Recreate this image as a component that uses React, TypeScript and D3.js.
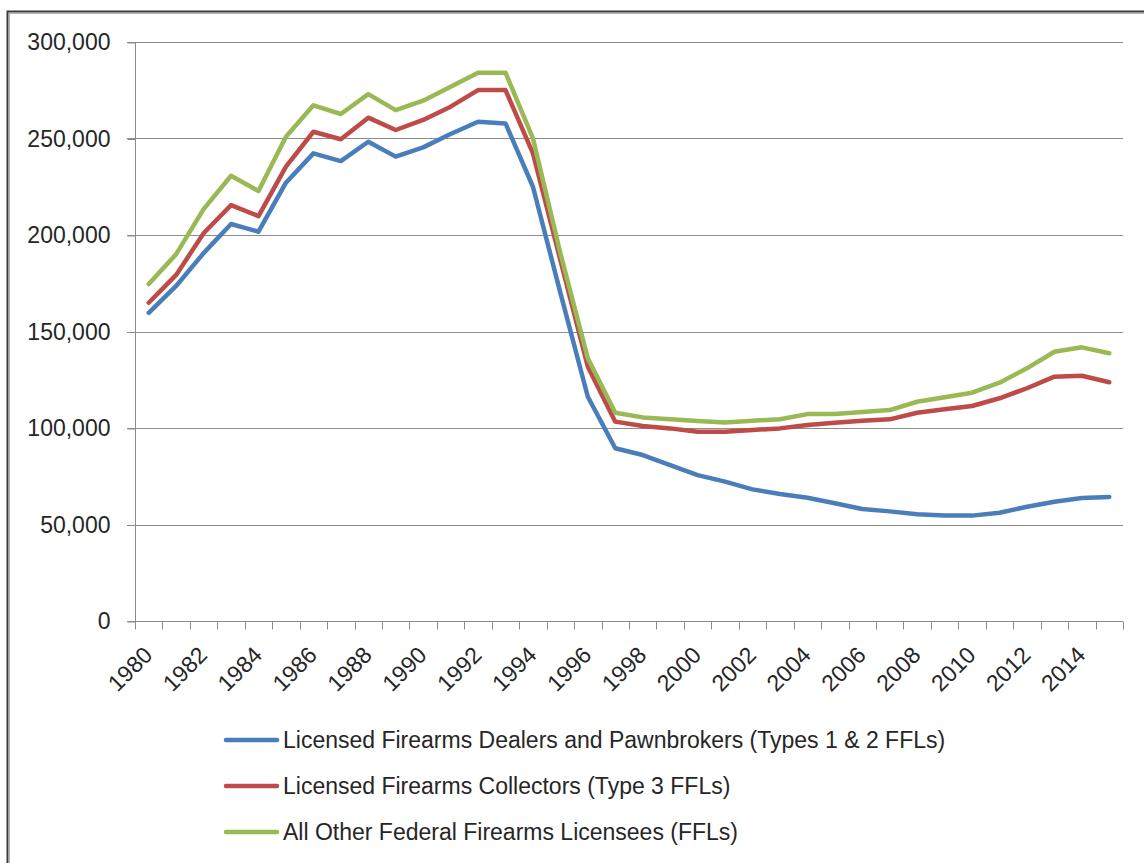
import React, { useEffect, useRef } from 'react';
import * as d3 from 'd3';

// Years on the category axis
const years: number[] = d3.range(1980, 2016);

// Types 1 & 2 FFLs (dealers and pawnbrokers)
const dealers: number[] = [
  159700, 173600, 190600, 205700, 201700, 227100, 242300, 238300, 248300, 240600,
  245400, 252300, 258700, 257800, 225000, 170000, 116200, 89500, 86000, 80800,
  75600, 72200, 68200, 65800, 63900, 61000, 58000, 56800, 55300, 54600,
  54600, 56100, 59200, 61800, 63700, 64300,
];

// Type 3 FFLs (collectors)
const collectors: number[] = [
  164900, 179300, 200900, 215500, 209800, 235400, 253500, 249600, 260800, 254400,
  259600, 266500, 275100, 275100, 242300, 187000, 131800, 103300, 101000, 99800,
  98100, 98100, 99000, 99800, 101500, 102700, 103800, 104500, 107900, 109700,
  111400, 115400, 120600, 126600, 127100, 123700,
];

// All other FFLs
const others: number[] = [
  174600, 190100, 213400, 230700, 222800, 250900, 267200, 262700, 273000, 264700,
  269600, 276800, 284100, 284100, 250100, 190500, 136100, 107900, 105500, 104500,
  103600, 102900, 103800, 104500, 107200, 107200, 108300, 109300, 113600, 115900,
  118300, 123500, 130900, 139500, 141800, 138700,
];

const seriesNames: string[] = [
  'Licensed Firearms Dealers and Pawnbrokers (Types 1 & 2 FFLs)',
  'Licensed Firearms Collectors (Type 3 FFLs)',
  'All Other Federal Firearms Licensees (FFLs)',
];
const seriesColors: string[] = ['#4a7ebb', '#be4b48', '#98b954'];

const yTicks: number[] = [0, 50000, 100000, 150000, 200000, 250000, 300000];

const W = 1144;
const H = 863;
const FONT = "'Liberation Sans', Arial, sans-serif";
const FS = 23;

const App = () => {
  const ref = useRef<SVGSVGElement>(null);

  useEffect(() => {
    const svg = d3.select(ref.current);
    svg.selectAll('*').remove();

    const plot = { left: 135, right: 1123, top: 42, bottom: 621 };

    // band scale so points sit in the middle of each category
    const x = d3.scaleBand<number>()
      .domain(years)
      .range([plot.left, plot.right]);
    const y = d3.scaleLinear().domain([0, 300000]).range([plot.bottom, plot.top]);

    svg.append('rect').attr('width', W).attr('height', H).attr('fill', '#fff');

    // outer frame (only left and top edges fall inside the picture)
    svg.append('rect')
      .attr('x', 7.5).attr('y', 11.5)
      .attr('width', W + 20).attr('height', H + 20)
      .attr('fill', 'none').attr('stroke', '#3a3a3a').attr('stroke-width', 2);
    svg.append('rect')
      .attr('x', 9.5).attr('y', 13.5)
      .attr('width', W + 20).attr('height', H + 20)
      .attr('fill', 'none').attr('stroke', '#b0b0b0').attr('stroke-width', 1);

    // gridlines
    svg.append('g')
      .selectAll('line')
      .data(yTicks.filter((d) => d > 0))
      .join('line')
      .attr('x1', plot.left - 8).attr('x2', plot.right)
      .attr('y1', (d) => Math.round(y(d)) + 0.5)
      .attr('y2', (d) => Math.round(y(d)) + 0.5)
      .attr('stroke', '#8c8c8c').attr('stroke-width', 1);

    // y axis
    const yAxis = svg.append('g')
      .attr('transform', `translate(${plot.left + 0.5},0.5)`)
      .call(
        d3.axisLeft(y)
          .tickValues(yTicks)
          .tickSize(8)
          .tickPadding(17)
          .tickFormat((d) => d3.format(',')(d as number))
      );
    yAxis.select('.domain').attr('stroke', '#8c8c8c').attr('d', `M0,${plot.bottom}V${plot.top}`);
    yAxis.selectAll('.tick line').attr('stroke', '#8c8c8c');
    yAxis.selectAll('.tick text')
      .attr('font-family', FONT).attr('font-size', FS).attr('fill', '#262626');

    // x axis: ticks on category boundaries, labels every other year
    const xg = svg.append('g').attr('transform', `translate(0,${Math.round(plot.bottom) + 0.5})`);
    xg.append('line')
      .attr('x1', plot.left - 8).attr('x2', plot.right)
      .attr('stroke', '#8c8c8c');
    const bounds = years.map((yr) => x(yr) as number).concat([plot.right]);
    xg.selectAll('line.tk')
      .data(bounds)
      .join('line')
      .attr('class', 'tk')
      .attr('x1', (d) => Math.round(d) + 0.5).attr('x2', (d) => Math.round(d) + 0.5)
      .attr('y1', 0).attr('y2', 8)
      .attr('stroke', '#8c8c8c');
    xg.selectAll('text')
      .data(years.filter((yr) => yr % 2 === 0))
      .join('text')
      .attr('transform', (yr) => {
        const cx = (x(yr) as number) + x.bandwidth() / 2;
        return `translate(${cx + 5},${35}) rotate(-45)`;
      })
      .attr('text-anchor', 'end')
      .attr('font-family', FONT).attr('font-size', FS).attr('fill', '#262626')
      .text((yr) => String(yr));

    // lines
    const line = d3.line<number>()
      .x((_, i) => (x(years[i]) as number) + x.bandwidth() / 2)
      .y((d) => y(d));

    const allSeries = [dealers, collectors, others];
    svg.append('g')
      .selectAll('path')
      .data(allSeries)
      .join('path')
      .attr('d', (d) => line(d))
      .attr('fill', 'none')
      .attr('stroke', (_, i) => seriesColors[i])
      .attr('stroke-width', 4.5)
      .attr('stroke-linejoin', 'round')
      .attr('stroke-linecap', 'round');

    // legend
    const legend = svg.append('g');
    seriesNames.forEach((name, i) => {
      const ly = 740 + i * 46;
      legend.append('line')
        .attr('x1', 226).attr('x2', 277)
        .attr('y1', ly).attr('y2', ly)
        .attr('stroke', seriesColors[i]).attr('stroke-width', 4.5)
        .attr('stroke-linecap', 'round');
      legend.append('text')
        .attr('x', 283).attr('y', ly)
        .attr('dy', '0.35em')
        .attr('font-family', FONT).attr('font-size', FS).attr('fill', '#262626')
        .text(name);
    });
  }, []);

  return (
    <svg
      ref={ref}
      width={W}
      height={H}
      style={{ position: 'absolute', left: 0, top: 0, display: 'block' }}
    />
  );
};

export default App;
